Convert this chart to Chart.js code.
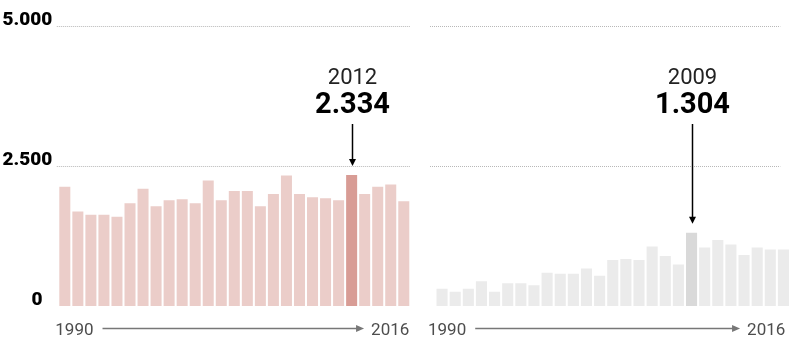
<!DOCTYPE html>
<html><head><meta charset="utf-8">
<script src="https://cdn.jsdelivr.net/npm/chart.js@4.4.1/dist/chart.umd.min.js"></script>
<style>
html,body{margin:0;padding:0;background:#fff;}
#wrap{position:relative;width:800px;height:355px;overflow:hidden;}
#c1{position:absolute;left:0;top:0;}
#c2{position:absolute;left:420px;top:0;}
</style></head><body>
<div id="wrap"><canvas id="c1" width="420" height="355"></canvas><canvas id="c2" width="380" height="355"></canvas></div>
<script>
const years = ['1990','1991','1992','1993','1994','1995','1996','1997','1998','1999','2000','2001','2002','2003','2004','2005','2006','2007','2008','2009','2010','2011','2012','2013','2014','2015','2016'];
const seriesLeft = [2124,1686,1626,1626,1590,1830,2088,1776,1884,1902,1830,2238,1884,2052,2052,1776,1998,2325,1998,1938,1920,1884,2334,1998,2124,2166,1866];
const seriesRight = [309,255,309,443,255,406,406,370,594,576,576,667,540,819,837,819,1061,892,740,1304,1043,1177,1098,910,1043,1007,1007];
const yTicks = [0, 2500, 5000];
const highlightLeft = '2012';
const highlightRight = '2009';

const fmt = v => String(v).replace(/\B(?=(\d{3})+(?!\d))/g, '.');

const deco = {
  id: 'deco',
  beforeDatasetsDraw(chart, args, o) {
    const ctx = chart.ctx, a = chart.chartArea, ys = chart.scales.y;
    ctx.save();
    ctx.strokeStyle = '#b8b8b8';
    ctx.lineWidth = 1;
    ctx.setLineDash([1, 1]);
    o.gridValues.forEach(v => {
      const y = Math.round(ys.getPixelForValue(v)) + 0.5;
      ctx.beginPath();
      ctx.moveTo(a.left + o.gridL, y);
      ctx.lineTo(a.right + o.gridR, y);
      ctx.stroke();
    });
    ctx.restore();
  },
  afterDraw(chart, args, o) {
    const ctx = chart.ctx, a = chart.chartArea, xs = chart.scales.x, ys = chart.scales.y;
    const labels = chart.data.labels, data = chart.data.datasets[0].data;
    ctx.save();
    // highlight annotation
    const i = labels.indexOf(o.highlight);
    const x = Math.round(xs.getPixelForValue(i)) + 0.5;
    const top = ys.getPixelForValue(data[i]);
    ctx.textAlign = 'center';
    ctx.textBaseline = 'alphabetic';
    ctx.fillStyle = '#222';
    ctx.font = '22px Roboto';
    ctx.fillText(labels[i], x, o.yearY);
    ctx.fillStyle = '#000';
    ctx.font = 'bold 29px Roboto';
    ctx.fillText(fmt(data[i]), x, o.valueY);
    const tip = top - 9, headH = 7;
    ctx.strokeStyle = '#000';
    ctx.lineWidth = 1.5;
    ctx.beginPath();
    ctx.moveTo(x, o.arrowTop);
    ctx.lineTo(x, tip - headH + 1);
    ctx.stroke();
    ctx.fillStyle = '#000';
    ctx.beginPath();
    ctx.moveTo(x - 3.5, tip - headH);
    ctx.lineTo(x + 3.5, tip - headH);
    ctx.lineTo(x, tip);
    ctx.closePath();
    ctx.fill();
    // bottom axis labels + arrow
    ctx.font = '17px Roboto';
    ctx.fillStyle = '#4d4d4d';
    ctx.textAlign = 'left';
    const first = labels[0], last = labels[labels.length - 1];
    const lx = a.left + o.axisL;
    ctx.fillText(first, lx, o.axisY);
    ctx.textAlign = 'right';
    const rx = a.right + o.axisR;
    ctx.fillText(last, rx, o.axisY);
    const x0 = lx + ctx.measureText(first).width + 9;
    const x1 = rx - ctx.measureText(last).width - 7;
    const ay = o.axisY - 6.5;
    ctx.strokeStyle = '#777';
    ctx.fillStyle = '#777';
    ctx.lineWidth = 1.5;
    ctx.beginPath();
    ctx.moveTo(x0, ay);
    ctx.lineTo(x1 - 7, ay);
    ctx.stroke();
    ctx.beginPath();
    ctx.moveTo(x1 - 8, ay - 3.5);
    ctx.lineTo(x1, ay);
    ctx.lineTo(x1 - 8, ay + 3.5);
    ctx.closePath();
    ctx.fill();
    ctx.restore();
  }
};

function makeChart(id, values, highlight, base, hi, padding, yAxis, decoOpts) {
  return new Chart(document.getElementById(id), {
    type: 'bar',
    data: {
      labels: years,
      datasets: [{
        data: values,
        backgroundColor: years.map(y => y === highlight ? hi : base),
        borderWidth: 0,
        barPercentage: 0.845,
        categoryPercentage: 1
      }]
    },
    options: {
      responsive: false,
      animation: false,
      layout: { padding: padding },
      plugins: { legend: { display: false }, tooltip: { enabled: false }, deco: decoOpts },
      scales: {
        x: { display: false },
        y: yAxis
      }
    },
    plugins: [deco]
  });
}

makeChart('c1', seriesLeft, highlightLeft, '#ebcdc9', '#d89c95',
  { left: 0, right: 9.7, top: 25.5, bottom: 49 },
  {
    min: yTicks[0], max: yTicks[yTicks.length - 1], display: true,
    grid: { display: false, drawTicks: false }, border: { display: false },
    afterBuildTicks: s => { s.ticks = yTicks.map(v => ({ value: v })); },
    ticks: { padding: 6, labelOffset: -5.5, color: '#000', font: { family: 'Roboto', weight: 900, size: 19 }, callback: v => fmt(v) + (v === 0 ? '\u2002' : '') },
    afterFit: s => { s.width = 58.3; }
  },
  { gridValues: yTicks.slice(1), gridL: -1.5, gridR: -0.5, highlight: highlightLeft, yearY: 83.5, valueY: 112.5, arrowTop: 124, axisL: -3, axisR: -1, axisY: 335 });

makeChart('c2', seriesRight, highlightRight, '#ebebeb', '#d9d9d9',
  { left: 15.5, right: 10, top: 25.5, bottom: 49 },
  { min: yTicks[0], max: yTicks[yTicks.length - 1], display: false },
  { gridValues: yTicks.slice(1), gridL: -5.5, gridR: -9.7, highlight: highlightRight, yearY: 83.5, valueY: 112.5, arrowTop: 124, axisL: -7.5, axisR: -4.7, axisY: 335 });
</script>
</body></html>
